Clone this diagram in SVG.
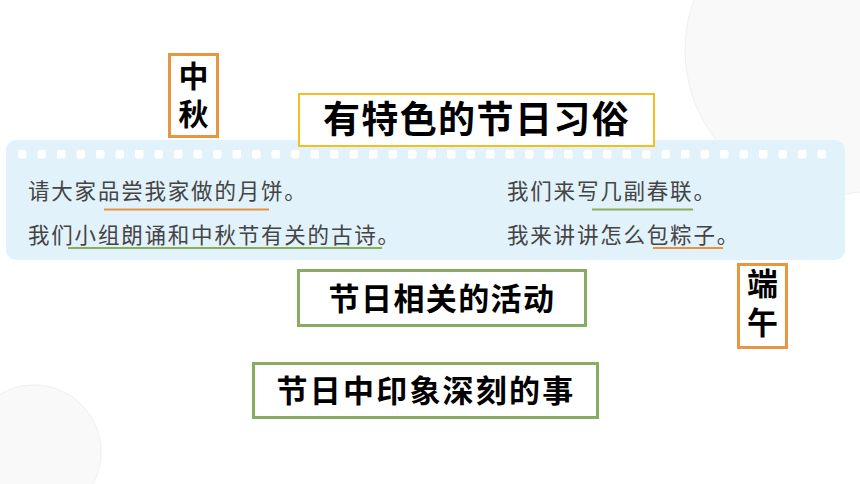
<svg xmlns="http://www.w3.org/2000/svg" width="860" height="484" viewBox="0 0 860 484">
<defs>
<style>
.bg{fill:#ffffff}
.deco{fill:#f9f9fa;stroke:#efeff1;stroke-width:1}
.panel{fill:#e1f2fb}
.dot{fill:#ffffff}
.body{font-family:"Noto Sans CJK SC","Noto Sans",sans-serif;font-size:21.5px;fill:#444444;letter-spacing:1.8px;font-weight:400}
.ul-o{stroke:#e8923c;stroke-width:2;fill:none}
.ul-g{stroke:#8aac5c;stroke-width:2;fill:none}
.title{font-family:"Noto Sans CJK SC","Noto Sans",sans-serif;font-weight:700;fill:#000;text-anchor:middle}
.vert{font-family:"Noto Sans CJK SC","Noto Sans",sans-serif;font-weight:700;fill:#000;writing-mode:vertical-rl;text-anchor:start}
.box-y{fill:#fff;stroke:#f5be1e;stroke-width:2}
.box-g{fill:#fff;stroke:#8aab63;stroke-width:3}
.box-o{fill:#fff;stroke:#e8963f;stroke-width:3}
</style>
</defs>
<rect class="bg" x="0" y="0" width="860" height="484"/>
<circle class="deco" cx="830" cy="50" r="145"/>
<circle class="deco" cx="34" cy="452" r="67"/>
<g id="panel">
<rect class="panel" x="6" y="140" width="839" height="120" rx="10"/>
<g id="dots">
<rect class="dot" x="18" y="150" width="8.5" height="8.5" rx="2"/>
<rect class="dot" x="37.5" y="150" width="8.5" height="8.5" rx="2"/>
<rect class="dot" x="57" y="150" width="8.5" height="8.5" rx="2"/>
<rect class="dot" x="76.5" y="150" width="8.5" height="8.5" rx="2"/>
<rect class="dot" x="96" y="150" width="8.5" height="8.5" rx="2"/>
<rect class="dot" x="115.5" y="150" width="8.5" height="8.5" rx="2"/>
<rect class="dot" x="135" y="150" width="8.5" height="8.5" rx="2"/>
<rect class="dot" x="154.5" y="150" width="8.5" height="8.5" rx="2"/>
<rect class="dot" x="174" y="150" width="8.5" height="8.5" rx="2"/>
<rect class="dot" x="193.5" y="150" width="8.5" height="8.5" rx="2"/>
<rect class="dot" x="213" y="150" width="8.5" height="8.5" rx="2"/>
<rect class="dot" x="232.5" y="150" width="8.5" height="8.5" rx="2"/>
<rect class="dot" x="252" y="150" width="8.5" height="8.5" rx="2"/>
<rect class="dot" x="271.5" y="150" width="8.5" height="8.5" rx="2"/>
<rect class="dot" x="291" y="150" width="8.5" height="8.5" rx="2"/>
<rect class="dot" x="310.5" y="150" width="8.5" height="8.5" rx="2"/>
<rect class="dot" x="330" y="150" width="8.5" height="8.5" rx="2"/>
<rect class="dot" x="349.5" y="150" width="8.5" height="8.5" rx="2"/>
<rect class="dot" x="369" y="150" width="8.5" height="8.5" rx="2"/>
<rect class="dot" x="388.5" y="150" width="8.5" height="8.5" rx="2"/>
<rect class="dot" x="408" y="150" width="8.5" height="8.5" rx="2"/>
<rect class="dot" x="427.5" y="150" width="8.5" height="8.5" rx="2"/>
<rect class="dot" x="447" y="150" width="8.5" height="8.5" rx="2"/>
<rect class="dot" x="466.5" y="150" width="8.5" height="8.5" rx="2"/>
<rect class="dot" x="486" y="150" width="8.5" height="8.5" rx="2"/>
<rect class="dot" x="505.5" y="150" width="8.5" height="8.5" rx="2"/>
<rect class="dot" x="525" y="150" width="8.5" height="8.5" rx="2"/>
<rect class="dot" x="544.5" y="150" width="8.5" height="8.5" rx="2"/>
<rect class="dot" x="564" y="150" width="8.5" height="8.5" rx="2"/>
<rect class="dot" x="583.5" y="150" width="8.5" height="8.5" rx="2"/>
<rect class="dot" x="603" y="150" width="8.5" height="8.5" rx="2"/>
<rect class="dot" x="622.5" y="150" width="8.5" height="8.5" rx="2"/>
<rect class="dot" x="642" y="150" width="8.5" height="8.5" rx="2"/>
<rect class="dot" x="661.5" y="150" width="8.5" height="8.5" rx="2"/>
<rect class="dot" x="681" y="150" width="8.5" height="8.5" rx="2"/>
<rect class="dot" x="700.5" y="150" width="8.5" height="8.5" rx="2"/>
<rect class="dot" x="720" y="150" width="8.5" height="8.5" rx="2"/>
<rect class="dot" x="739.5" y="150" width="8.5" height="8.5" rx="2"/>
<rect class="dot" x="759" y="150" width="8.5" height="8.5" rx="2"/>
<rect class="dot" x="778.5" y="150" width="8.5" height="8.5" rx="2"/>
<rect class="dot" x="798" y="150" width="8.5" height="8.5" rx="2"/>
<rect class="dot" x="817.5" y="150" width="8.5" height="8.5" rx="2"/>
</g>
<text class="body" x="28" y="199">请大家品尝我家做的月饼。</text>
<text class="body" x="28" y="243">我们小组朗诵和中秋节有关的古诗。</text>
<text class="body" x="507" y="199">我们来写几副春联。</text>
<text class="body" x="507" y="243">我来讲讲怎么包粽子。</text>
<line class="ul-o" x1="104" y1="209.5" x2="269" y2="209.5"/>
<line class="ul-g" x1="68" y1="248" x2="382" y2="248"/>
<line class="ul-g" x1="592" y1="209.5" x2="693" y2="209.5"/>
<line class="ul-o" x1="653" y1="248" x2="723" y2="248"/>
</g>
<g id="node-zhongqiu">
<rect class="box-o" x="169.5" y="54.5" width="48" height="82"/>
<text class="vert" x="193.5" y="61" font-size="30" letter-spacing="8">中秋</text>
</g>
<g id="node-customs">
<rect class="box-y" x="299" y="94" width="355" height="52"/>
<text class="title" x="476.5" y="133" font-size="37" letter-spacing="1.4">有特色的节日习俗</text>
</g>
<g id="node-activities">
<rect class="box-g" x="298.5" y="270.5" width="287" height="55"/>
<text class="title" x="442" y="310" font-size="31" letter-spacing="1.4">节日相关的活动</text>
</g>
<g id="node-memorable">
<rect class="box-g" x="253.5" y="363.5" width="344" height="54"/>
<text class="title" x="426" y="402" font-size="31" letter-spacing="2.2">节日中印象深刻的事</text>
</g>
<g id="node-duanwu">
<rect class="box-o" x="738.5" y="264.5" width="48" height="83"/>
<text class="vert" x="762.5" y="268" font-size="31" letter-spacing="8">端午</text>
</g>
<g id="connectors"></g>
</svg>
